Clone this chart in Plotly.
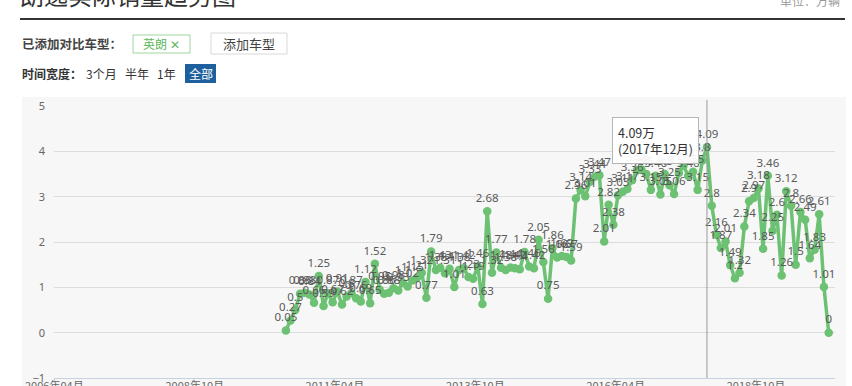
import pandas as pd
import plotly.graph_objects as go

# ---- data (万辆, monthly, starting 2010-06) ----
start_month = "2010-06-01"
sales = [
    0.05, 0.27, 0.5, 0.86, 0.88, 0.84, 0.66, 1.25, 0.59, 0.87,
    0.67, 0.91, 0.62, 0.8, 0.87, 0.76, 0.69, 1.12, 0.65, 1.52,
    0.95, 0.86, 0.88, 0.98, 0.93, 1.1, 1.02, 1.15, 1.21, 1.32,
    0.77, 1.79, 1.38, 1.43, 1.31, 1.41, 1.01, 1.38, 1.42, 1.23,
    1.19, 1.46, 0.63, 2.68, 1.32, 1.77, 1.43, 1.38, 1.44, 1.42,
    1.4, 1.78, 1.46, 1.42, 2.05, 1.56, 0.75, 1.86, 1.66, 1.69,
    1.67, 1.59, 2.96, 3.14, 3.01, 3.33, 3.44, 3.47, 2.01, 2.82,
    2.38, 3.03, 3.11, 3.17, 3.36, 3.58, 3.6, 3.5, 3.15, 3.46,
    3.05, 3.5, 3.25, 3.06, 3.52, 3.68, 3.46, 3.55, 3.15, 3.8,
    4.09, 2.8, 2.16, 1.87, 2.01, 1.49, 1.2, 1.32, 2.34, 2.9,
    2.97, 3.18, 1.85, 3.46, 2.25, 2.6, 1.26, 3.12, 2.8, 1.5,
    2.66, 2.49, 1.64, 1.83, 2.61, 1.01, 0,
]
months = pd.date_range(start_month, periods=len(sales), freq="MS")
labels = [f"{v:g}" for v in sales]

tick_dates = ["2006-04-16", "2008-10-16", "2011-04-16", "2013-10-16", "2016-04-16", "2018-10-16"]
tick_text = ["2006年04月", "2008年10月", "2011年04月", "2013年10月", "2016年04月", "2018年10月"]
y_ticks = [-1, 0, 1, 2, 3, 4, 5]

title_text = "朗逸实际销量趋势图"
unit_text = "单位：万辆"
tip_value = "4.09万"
tip_month = "(2017年12月)"
tip_date = "2017-12-01"

# ---- layout helpers (pixel -> paper) ----
W, H = 852, 386
PL, PR, PT, PB = 54, 835, 106, 378


def fx(px):
    return (px - PL) / (PR - PL)


def fy(py):
    return (PB - py) / (PB - PT)


CJK = "Noto Sans CJK SC, Noto Sans, sans-serif"
GREEN = "#6cc172"

fig = go.Figure()
fig.add_trace(go.Scatter(
    x=months, y=sales, mode="lines+markers+text",
    text=labels, textposition="top center",
    textfont=dict(family="Noto Sans, sans-serif", size=11.5, color="#5a5a5a"),
    line=dict(color=GREEN, width=3.5),
    marker=dict(color=GREEN, size=8.5),
    hoverinfo="skip", showlegend=False,
))

shapes = [
    dict(type="rect", xref="paper", yref="paper", x0=fx(22), x1=fx(846), y0=fy(390), y1=fy(97),
         fillcolor="#f7f7f7", line=dict(width=0), layer="below"),
    dict(type="line", xref="paper", yref="paper", x0=fx(20), x1=fx(845), y0=fy(19), y1=fy(19),
         line=dict(color="#333", width=2)),
    dict(type="rect", xref="paper", yref="paper", x0=fx(133), x1=fx(190), y0=fy(53), y1=fy(35),
         fillcolor="#fff", line=dict(color="#9ed49e", width=1)),
    dict(type="rect", xref="paper", yref="paper", x0=fx(211), x1=fx(287), y0=fy(54), y1=fy(33),
         fillcolor="#fff", line=dict(color="#d8d8d8", width=1)),
    dict(type="rect", xref="paper", yref="paper", x0=fx(185), x1=fx(216), y0=fy(83), y1=fy(64),
         fillcolor="#1e5f9e", line=dict(width=0)),
    dict(type="line", xref="x", yref="paper", x0=tip_date, x1=tip_date, y0=0, y1=fy(100),
         line=dict(color="#9a9a9a", width=1)),
]


def ann(text, px, py, size, color="#333", xanchor="left", yanchor="middle", **kw):
    return dict(text=text, xref="paper", yref="paper", x=fx(px), y=fy(py), xanchor=xanchor,
                yanchor=yanchor, showarrow=False,
                font=dict(family=CJK, size=size, color=color), **kw)


annotations = [
    ann(title_text, 18, -5, 24, "#333"),
    ann(unit_text, 842, 0, 12, "#999", xanchor="right"),
    ann("<b>已添加对比车型：</b>", 20, 44, 12.5, "#444"),
    ann("英朗 ✕", 161.5, 44, 12, "#5cb85c", xanchor="center"),
    ann("添加车型", 249, 44, 13, "#444", xanchor="center"),
    ann("<b>时间宽度：</b>", 20, 73, 12, "#333"),
    ann("3个月", 84, 73, 12, "#333"),
    ann("半年", 123, 73, 12, "#333"),
    ann("1年", 155, 73, 12, "#333"),
    ann("全部", 200.5, 73, 12, "#fff", xanchor="center"),
    ann(f"{tip_value}<br>{tip_month}", 612, 117, 12.5, "#333", yanchor="top", align="left",
        bgcolor="rgba(255,255,255,0.93)", bordercolor="#b5b5b5", borderwidth=1, borderpad=5),
]

fig.update_layout(
    template="none",
    width=W, height=H, autosize=False,
    margin=dict(l=PL, r=W - PR, t=PT, b=H - PB, pad=0),
    paper_bgcolor="#ffffff", plot_bgcolor="#f7f7f7",
    shapes=shapes, annotations=annotations,
    font=dict(family=CJK),
    xaxis=dict(
        type="date", range=["2006-04-14", "2020-03-13"],
        tickvals=tick_dates, ticktext=tick_text,
        showgrid=False, zeroline=False,
        showline=True, linecolor="#c5d3e0", linewidth=1,
        ticks="outside", ticklen=4, tickcolor="#c5d3e0",
        ticklabelstandoff=-6,
        tickfont=dict(size=11, color="#666"), automargin=False,
    ),
    yaxis=dict(
        range=[-1, 5], tickvals=y_ticks,
        showgrid=True, gridcolor="#dcdcdc", gridwidth=1,
        zeroline=False, showline=False, ticks="",
        ticklabelstandoff=8,
        tickfont=dict(family="Noto Sans, sans-serif", size=11, color="#666"), automargin=False,
    ),
)

fig.write_html("out.html")
